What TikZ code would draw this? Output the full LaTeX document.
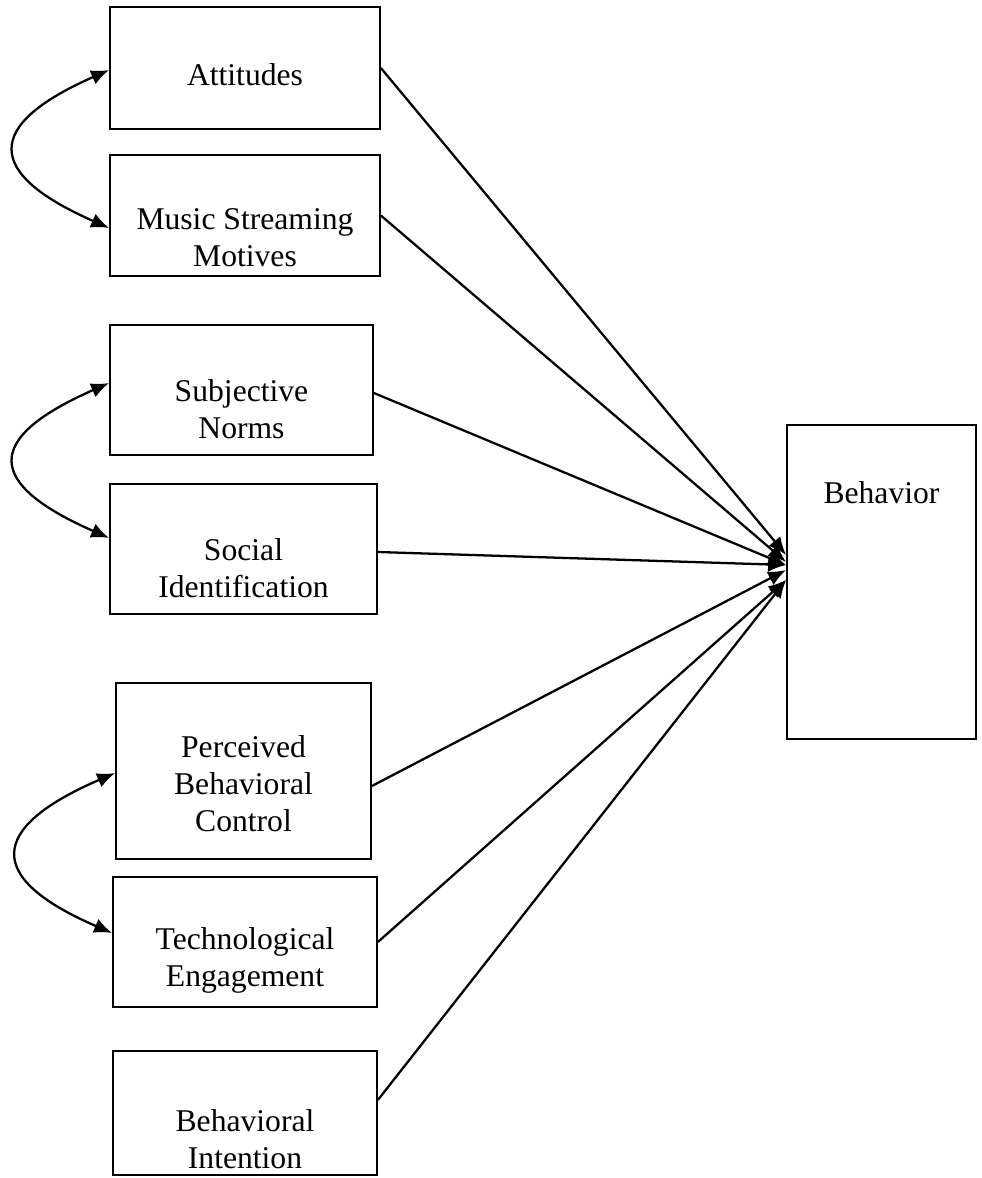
\documentclass[tikz,border=0pt]{standalone}
\usepackage{fontspec}
\setmainfont{Liberation Serif}
\usetikzlibrary{arrows.meta}

\tikzset{
  box/.style={draw, line width=1pt, inner sep=0pt},
  txt/.style={align=center, font=\fontsize{18}{21}\selectfont},
  path/.style={line width=1.3pt, -{Latex[length=0.36cm,width=0.3cm]}},
  corr/.style={line width=1.3pt, {Latex[length=0.36cm,width=0.3cm]}-{Latex[length=0.36cm,width=0.3cm]}},
}

\begin{document}
\begin{tikzpicture}
		\useasboundingbox (0,0) rectangle (19.62,-23.56);
		
		% predictor boxes
		\node[box, minimum width=5.40cm, minimum height=2.44cm] (att) at (4.90,-1.36) {};
		\node[txt] (att-t) at ([yshift=-0.14cm]att.center) {Attitudes};
		
		\node[box, minimum width=5.40cm, minimum height=2.42cm] (mot) at (4.90,-4.31) {};
		\node[txt] (mot-t) at ([yshift=-0.44cm]mot.center) {Music Streaming\\Motives};
		
		\node[box, minimum width=5.26cm, minimum height=2.60cm] (sub) at (4.83,-7.80) {};
		\node[txt] (sub-t) at ([yshift=-0.38cm]sub.center) {Subjective\\Norms};
		
		\node[box, minimum width=5.34cm, minimum height=2.60cm] (soc) at (4.87,-10.98) {};
		\node[txt] (soc-t) at ([yshift=-0.38cm]soc.center) {Social\\Identification};
		
		\node[box, minimum width=5.10cm, minimum height=3.52cm] (pbc) at (4.87,-15.42) {};
		\node[txt] (pbc-t) at ([yshift=-0.26cm]pbc.center) {Perceived\\Behavioral\\Control};
		
		\node[box, minimum width=5.28cm, minimum height=2.60cm] (tec) at (4.90,-18.84) {};
		\node[txt] (tec-t) at ([yshift=-0.36cm]tec.center) {Technological\\Engagement};
		
		\node[box, minimum width=5.28cm, minimum height=2.48cm] (bi) at (4.90,-22.26) {};
		\node[txt] (bi-t) at ([yshift=-0.52cm]bi.center) {Behavioral\\Intention};
		
		% outcome
		\node[box, minimum width=3.78cm, minimum height=6.28cm] (beh) at (17.63,-11.64) {};
		\node[txt] (beh-t) at (17.63,-9.86) {Behavior};
		
		% paths
		\draw[path] (att.east) -- ([yshift=0.54cm]beh.west);
		\draw[path] (mot.east) -- ([yshift=0.40cm]beh.west);
		\draw[path] ([yshift=-0.06cm]sub.east) -- ([yshift=0.34cm]beh.west);
		\draw[path] ([yshift=-0.06cm]soc.east) -- ([yshift=0.34cm]beh.west);
		\draw[path] ([yshift=-0.30cm]pbc.east) -- ([yshift=0.24cm]beh.west);
		\draw[path] (tec.east) -- ([yshift=0.04cm]beh.west);
		\draw[path] ([yshift=0.26cm]bi.east) -- ([yshift=0.04cm]beh.west);
		
		% correlations
		\draw[corr] ([yshift=-0.04cm]att.west) .. controls +(-2.5,-1.1) and +(-2.5,1.1) .. ([yshift=-0.25cm]mot.west);
		\draw[corr] ([yshift=0.14cm]sub.west) .. controls +(-2.5,-1.1) and +(-2.5,1.1) .. ([yshift=0.22cm]soc.west);
		\draw[corr] ([yshift=-0.04cm]pbc.west) .. controls +(-2.55,-1.1) and +(-2.55,1.1) .. ([yshift=0.18cm]tec.west);
		
\end{tikzpicture}
\end{document}
